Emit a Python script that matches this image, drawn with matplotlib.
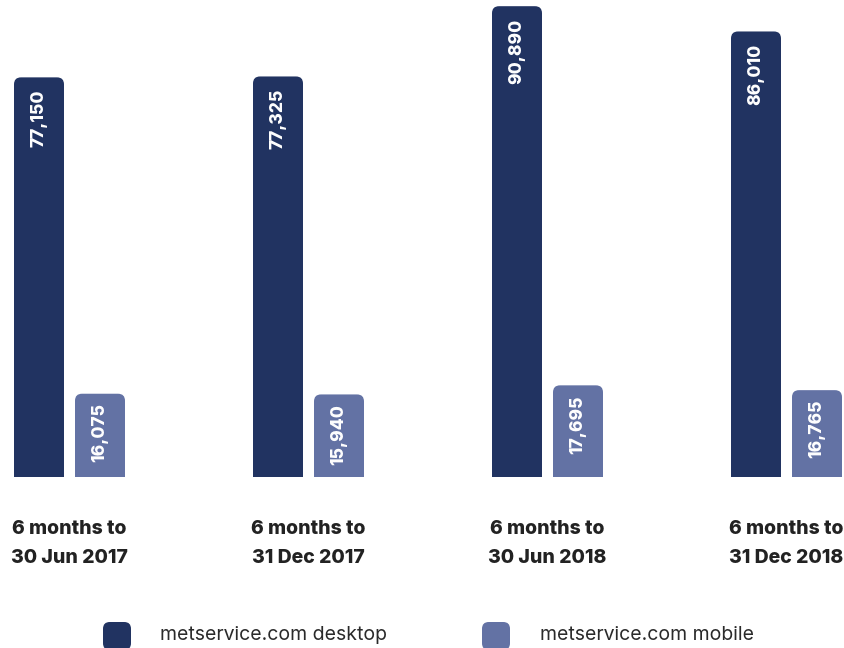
import matplotlib
matplotlib.use("Agg")
import matplotlib.pyplot as plt
from matplotlib.patches import FancyBboxPatch, Rectangle
import numpy as np

categories = ["6 months to\n30 Jun 2017", "6 months to\n31 Dec 2017",
              "6 months to\n30 Jun 2018", "6 months to\n31 Dec 2018"]
desktop = [77150, 77325, 90890, 86010]
mobile = [16075, 15940, 17695, 16765]
series_names = ["metservice.com desktop", "metservice.com mobile"]
colors = ["#213361", "#6372a4"]

W, H = 845, 648
fig = plt.figure(figsize=(W / 100, H / 100), dpi=100)
base_px = 477
ax = fig.add_axes([0, (H - base_px) / H, 1, base_px / H])
ymax = base_px / 0.00518
ax.set_ylim(0, ymax)
ax.set_xlim(-69.5 / 239, (W - 69.5) / 239)
ax.axis("off")

x = np.arange(len(categories))
bw = 50 / 239
off = 30.5 / 239

px_per_x = W / (ax.get_xlim()[1] - ax.get_xlim()[0])
px_per_y = base_px / ymax
aspect = px_per_x / px_per_y

def rounded_bars(xs, vals, color):
    bars = ax.bar(xs, vals, width=bw, color=color, alpha=0)
    r = 7 / px_per_x
    for b in bars:
        bx, by, w, h = b.get_x(), b.get_y(), b.get_width(), b.get_height()
        p = FancyBboxPatch((bx, by), w, h,
                           boxstyle=f"round,pad=0,rounding_size={r}",
                           mutation_aspect=aspect, fc=color, ec="none", zorder=2)
        ax.add_patch(p)
        ax.add_patch(Rectangle((bx, by), w, h / 2, fc=color, ec="none", zorder=2))
    return bars

rounded_bars(x - off, desktop, colors[0])
rounded_bars(x + off, mobile, colors[1])

for xi, v in zip(x - off, desktop):
    ax.annotate(f"{v:,}", (xi, v), xytext=(0, -9), textcoords="offset points",
                rotation=90, ha="center", va="top", color="white",
                fontsize=12.5, fontweight="heavy", family="Inter", zorder=3)
for xi, v in zip(x + off, mobile):
    ax.annotate(f"{v:,}", (xi, v), xytext=(0, -7), textcoords="offset points",
                rotation=90, ha="center", va="top", color="white",
                fontsize=12.5, fontweight="heavy", family="Inter", zorder=3)

for xi, c in zip(x, categories):
    ax.annotate(c, (xi, 0), xytext=(0, -31), textcoords="offset points",
                ha="center", va="top", fontsize=14, fontweight="heavy",
                family="Inter", color="#222222", linespacing=1.75,
                annotation_clip=False)

leg_items = [(103, 160), (482, 540)]
for (mx, tx), name, col in zip(leg_items, series_names, colors):
    fig.patches.append(FancyBboxPatch((mx / W, (H - 650) / H), 28 / W, 28 / H,
                                      boxstyle="round,pad=0,rounding_size=0.008",
                                      mutation_aspect=W / H,
                                      transform=fig.transFigure, fc=col, ec="none"))
    fig.text(tx / W, (H - 635) / H, name, ha="left", va="center",
             fontsize=14, family="Inter", color="#2a2a2a")

fig.savefig("out.png", dpi=100)
